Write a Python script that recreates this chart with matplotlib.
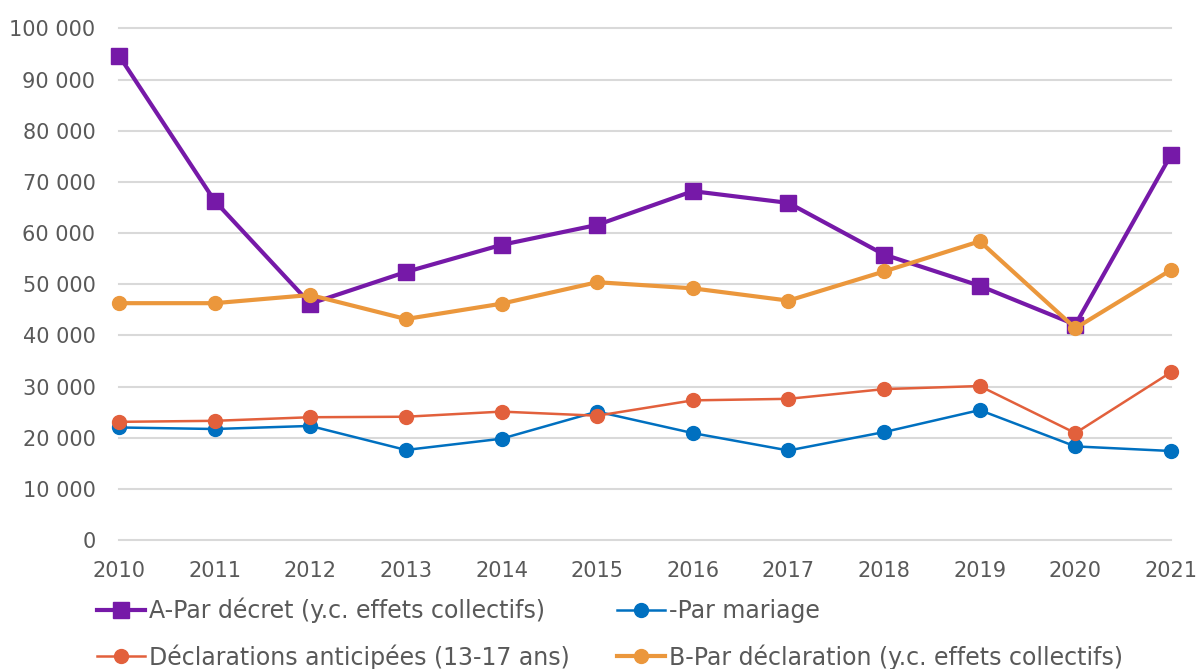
import matplotlib.pyplot as plt
from matplotlib.ticker import FuncFormatter

# data
years = list(range(2010, 2022))
par_decret = [94700, 66300, 46200, 52400, 57700, 61600, 68200, 65900, 55800, 49700, 42100, 75300]
par_mariage = [22000, 21700, 22300, 17600, 19800, 25100, 20900, 17500, 21100, 25400, 18300, 17400]
decl_anticipees = [23100, 23300, 24000, 24100, 25100, 24300, 27300, 27600, 29500, 30100, 20900, 32800]
par_declaration = [46300, 46300, 47900, 43200, 46200, 50400, 49200, 46800, 52500, 58400, 41400, 52800]

plt.rcParams['font.family'] = ['DejaVu Sans']
grey = '#595959'

fig = plt.figure(figsize=(11.99, 6.69), dpi=100)
ax = fig.add_axes([119 / 1199, 1 - 540 / 669, (1171 - 119) / 1199, (540 - 28.5) / 669])

l1, = ax.plot(years, par_decret, color='#7619a8', lw=3, marker='s', ms=11, clip_on=False, zorder=4)
l2, = ax.plot(years, par_mariage, color='#0070c0', lw=1.8, marker='o', ms=10, clip_on=False, zorder=3)
l3, = ax.plot(years, decl_anticipees, color='#e2603c', lw=1.8, marker='o', ms=10, clip_on=False, zorder=3)
l4, = ax.plot(years, par_declaration, color='#eb973c', lw=3, marker='o', ms=10, clip_on=False, zorder=5)

ax.set_xlim(2010, 2021)
ax.set_ylim(0, 100000)
ax.set_yticks(range(0, 100001, 10000))
ax.set_xticks(years)
ax.yaxis.set_major_formatter(FuncFormatter(lambda v, p: f"{int(v):,}".replace(",", " ")))
ax.grid(axis='y', color='#d9d9d9', lw=1.5)
for gl in ax.get_ygridlines():
    gl.set_clip_on(False)
ax.set_axisbelow(True)
for s in ax.spines.values():
    s.set_visible(False)
ax.tick_params(length=0, labelsize=15, colors=grey)
ax.tick_params(axis='y', pad=17)
ax.tick_params(axis='x', pad=15)

leg = fig.legend([l1, l3, l2, l4],
                 ['A-Par décret (y.c. effets collectifs)', 'Déclarations anticipées (13-17 ans)',
                  '-Par mariage', 'B-Par déclaration (y.c. effets collectifs)'],
                 ncol=2, loc='lower left', bbox_to_anchor=(88 / 1199, -0.015), frameon=False,
                 fontsize=17, handlelength=2.0, handletextpad=0.2, columnspacing=2.0,
                 labelspacing=0.9, labelcolor=grey, borderaxespad=0)

fig.savefig('out.png', dpi=100)
